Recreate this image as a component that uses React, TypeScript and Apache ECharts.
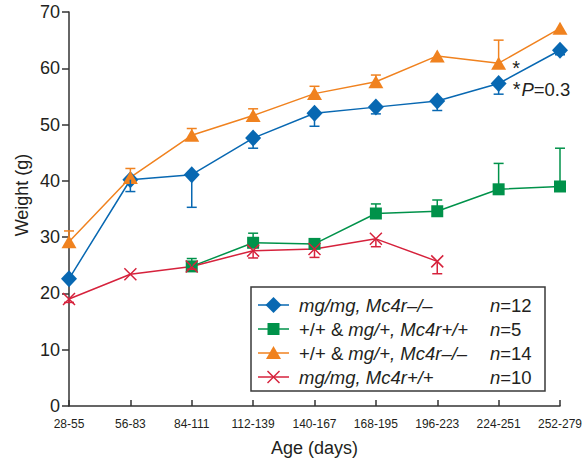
import React, { useEffect, useRef } from "react";
import * as echarts from "echarts";

const categories = ["28-55", "56-83", "84-111", "112-139", "140-167", "168-195", "196-223", "224-251", "252-279"];

const blueVals = [22.6, 40.2, 41.1, 47.6, 52.0, 53.1, 54.2, 57.3, 63.2];
const blueErr = [0, 2.1, 5.8, 1.8, 2.3, 1.2, 1.7, 1.9, 0.8];
const greenVals = [null, null, 24.8, 29.0, 28.8, 34.2, 34.6, 38.5, 39.0];
const greenErr = [0, 0, 1.4, 1.7, 0, 1.7, 2.0, 4.6, 6.8];
const orangeVals = [29.2, 40.6, 48.1, 51.6, 55.5, 57.6, 62.2, 60.9, 67.1];
const orangeErr = [1.9, 1.6, 1.2, 1.2, 1.3, 1.2, 0, 4.1, 0];
const redVals = [19.0, 23.4, 24.8, 27.6, 27.9, 29.7, 25.7, null, null];
const redErr = [0.6, 0, 0.5, 1.3, 1.5, 1.4, 2.2, 0, 0];

// legend name parts: [text, italic]
const seriesNames: [string, boolean][][] = [
  [["mg/mg, Mc4r–/–", true]],
  [["+/+ & ", false], ["mg/+, Mc4r+/+", true]],
  [["+/+ & ", false], ["mg/+, Mc4r–/–", true]],
  [["mg/mg, Mc4r+/+", true]],
];
const seriesN = [12, 5, 14, 10];

const yTicks = { min: 0, max: 70, interval: 10 };

const BLUE = "#0868b2";
const GREEN = "#00924a";
const ORANGE = "#f0821f";
const RED = "#d6223c";
const TXT = "#231f20";
const FONT = "Liberation Sans, Arial, sans-serif";
const LFS = 18.5;

const CROSS = "path://M0,0L10,10M10,0L0,10";

function errSeries(vals: (number | null)[], errs: number[], dir: number, color: string) {
  const data: number[][] = [];
  vals.forEach((v, i) => {
    if (v != null && errs[i] > 0) data.push([i, v, errs[i], dir]);
  });
  return {
    type: "custom",
    data,
    z: 3,
    silent: true,
    renderItem: (params: any, api: any) => {
      const p0 = api.coord([api.value(0), api.value(1)]);
      const p1 = api.coord([api.value(0), api.value(1) + api.value(3) * api.value(2)]);
      const st = { stroke: color, lineWidth: 1.5 };
      return {
        type: "group",
        children: [
          { type: "line", shape: { x1: p0[0], y1: p0[1], x2: p1[0], y2: p1[1] }, style: st },
          { type: "line", shape: { x1: p1[0] - 5, y1: p1[1], x2: p1[0] + 5, y2: p1[1] }, style: st },
        ],
      };
    },
  };
}

function buildLegend() {
  const colors = [BLUE, GREEN, ORANGE, RED];
  const boxX = 251, boxY = 287, boxW = 294, boxH = 104;
  const rowY0 = 305, rowStep = 24;
  const lx1 = 258, lx2 = 289, mx = 273.5, tx = 299, nx = 490;
  const children: any[] = [
    { type: "rect", shape: { x: boxX, y: boxY, width: boxW, height: boxH }, style: { fill: "#fff", stroke: "#3a3a3a", lineWidth: 1.5 } },
  ];
  const rich = {
    i: { fontStyle: "italic", fontSize: LFS, fontFamily: FONT, fill: TXT },
    r: { fontSize: LFS, fontFamily: FONT, fill: TXT },
  };
  colors.forEach((c, i) => {
    const y = rowY0 + i * rowStep;
    children.push({ type: "line", shape: { x1: lx1, y1: y, x2: lx2, y2: y }, style: { stroke: c, lineWidth: 1.5 } });
    if (i === 0) {
      children.push({ type: "polygon", shape: { points: [[mx, y - 8], [mx + 8, y], [mx, y + 8], [mx - 8, y]] }, style: { fill: c } });
    } else if (i === 1) {
      children.push({ type: "rect", shape: { x: mx - 6, y: y - 6, width: 12, height: 12 }, style: { fill: c } });
    } else if (i === 2) {
      children.push({ type: "polygon", shape: { points: [[mx, y - 7], [mx + 7.5, y + 6], [mx - 7.5, y + 6]] }, style: { fill: c } });
    } else {
      const st = { stroke: c, lineWidth: 1.5 };
      children.push({ type: "line", shape: { x1: mx - 6, y1: y - 6, x2: mx + 6, y2: y + 6 }, style: st });
      children.push({ type: "line", shape: { x1: mx + 6, y1: y - 6, x2: mx - 6, y2: y + 6 }, style: st });
    }
    const parts = seriesNames[i];
    const txt = parts.map(([t, it]) => `{${it ? "i" : "r"}|${t}}`).join("");
    children.push({ type: "text", x: tx, y, style: { text: txt, verticalAlign: "middle", rich } });
    children.push({ type: "text", x: nx, y, style: { text: `{i|n}{r|=${seriesN[i]}}`, verticalAlign: "middle", rich } });
  });
  return children;
}

export default function App() {
  const ref = useRef<HTMLDivElement>(null);
  useEffect(() => {
    if (!ref.current) return;
    const chart = echarts.init(ref.current, undefined, { renderer: "svg" });

    const orangeData = orangeVals.map((v, i) =>
      i === 7
        ? { value: v, label: { show: true, position: "right", distance: 6, offset: [0, 5], formatter: "*", fontSize: 20, fontFamily: FONT, color: TXT } }
        : v
    );
    const blueData = blueVals.map((v, i) =>
      i === 7
        ? {
            value: v,
            label: {
              show: true,
              position: "right",
              distance: 6,
              offset: [0, 6],
              formatter: "{s|*}{i|P}{r|=0.3}",
              rich: {
                s: { fontSize: 20, fontFamily: FONT, color: TXT, padding: [0, 1, 0, 0] },
                i: { fontSize: 18.5, fontStyle: "italic", fontFamily: FONT, color: TXT },
                r: { fontSize: 18.5, fontFamily: FONT, color: TXT },
              },
            },
          }
        : v
    );

    const lineBase = { type: "line", lineStyle: { width: 1.5 }, z: 2, connectNulls: false };

    chart.setOption({
      animation: false,
      grid: { left: 69, right: 26, top: 12, bottom: 50, containLabel: false },
      xAxis: {
        type: "category",
        data: categories,
        boundaryGap: false,
        axisLine: { lineStyle: { color: "#333", width: 1.5 } },
        axisTick: { inside: true, length: 6, lineStyle: { color: "#333", width: 1.5 } },
        axisLabel: { color: TXT, fontSize: 12, fontFamily: FONT, margin: 12, interval: 0 },
        name: "Age (days)",
        nameLocation: "middle",
        nameGap: 33,
        nameTextStyle: { color: TXT, fontSize: 18, fontFamily: FONT },
        splitLine: { show: false },
      },
      yAxis: {
        type: "value",
        min: yTicks.min,
        max: yTicks.max,
        interval: yTicks.interval,
        axisLine: { show: true, lineStyle: { color: "#333", width: 1.5 } },
        axisTick: { show: true, length: 7, lineStyle: { color: "#333", width: 1.5 } },
        axisLabel: { color: TXT, fontSize: 18, fontFamily: FONT, margin: 9 },
        splitLine: { show: false },
      },
      graphic: [
        {
          type: "text",
          x: 22,
          y: 195,
          rotation: Math.PI / 2,
          style: { text: "Weight (g)", fontSize: 18, fontFamily: FONT, fill: TXT, align: "center", verticalAlign: "middle" },
        },
        { type: "group", z: 100, children: buildLegend() },
      ],
      series: [
        errSeries(blueVals, blueErr, -1, BLUE),
        errSeries(greenVals, greenErr, 1, GREEN),
        errSeries(orangeVals, orangeErr, 1, ORANGE),
        errSeries(redVals, redErr, -1, RED),
        { ...lineBase, name: "blue", data: blueData, symbol: "diamond", symbolSize: [16, 17], itemStyle: { color: BLUE }, lineStyle: { width: 1.5, color: BLUE } },
        { ...lineBase, name: "green", data: greenVals, symbol: "rect", symbolSize: 12, itemStyle: { color: GREEN }, lineStyle: { width: 1.5, color: GREEN } },
        { ...lineBase, name: "orange", data: orangeData, symbol: "triangle", symbolSize: [15, 13], itemStyle: { color: ORANGE }, lineStyle: { width: 1.5, color: ORANGE } },
        { ...lineBase, name: "red", data: redVals, symbol: CROSS, symbolSize: 12, itemStyle: { color: "none", borderColor: RED, borderWidth: 1.5 }, lineStyle: { width: 1.5, color: RED } },
      ],
    });
    return () => chart.dispose();
  }, []);
  return <div ref={ref} style={{ width: 586, height: 462, position: "absolute", left: 0, top: 0 }} />;
}
